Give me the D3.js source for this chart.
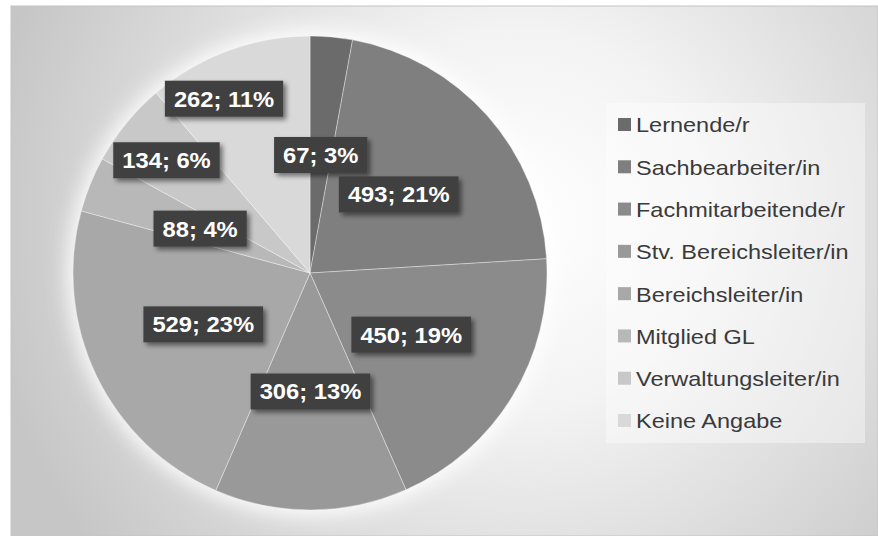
<!DOCTYPE html>
<html>
<head>
<meta charset="utf-8">
<script src="https://cdn.jsdelivr.net/npm/d3@7"></script>
<style>
  html, body { margin: 0; padding: 0; background: #ffffff; }
  svg { display: block; }
</style>
</head>
<body>
<div id="chart"></div>
<script>
// categories and counts
const categories = ["Lernende/r", "Sachbearbeiter/in", "Fachmitarbeitende/r", "Stv. Bereichsleiter/in",
                    "Bereichsleiter/in", "Mitglied GL", "Verwaltungsleiter/in", "Keine Angabe"];
const counts = [67, 493, 450, 306, 529, 88, 134, 262];
const shades = ["#6b6b6b", "#7f7f7f", "#8b8b8b", "#999999", "#a8a8a8", "#b8b8b8", "#c8c8c8", "#d9d9d9"];

// Excel "best fit" moved the two crowded labels outwards (radius fraction, angle shift in degrees)
const labelNudge = {
    "Verwaltungsleiter/in": [0.77, -1],
    "Keine Angabe": [0.82, -6]
};

const width = 878, height = 536;
const cx = 310, cy = 273, radius = 237;

const svg = d3.select("#chart").append("svg")
    .attr("width", width)
    .attr("height", height);

const defs = svg.append("defs");

let bg = defs.append("radialGradient")
    .attr("id", "bg")
    .attr("gradientUnits", "userSpaceOnUse")
    .attr("cx", 520).attr("cy", 220).attr("r", 540);
bg.append("stop").attr("offset", "0%").attr("stop-color", "#ffffff");
bg.append("stop").attr("offset", "35%").attr("stop-color", "#f3f3f3");
bg.append("stop").attr("offset", "100%").attr("stop-color", "#c6c6c6");

let glow = defs.append("filter").attr("id", "glow")
    .attr("x", "-20%").attr("y", "-20%").attr("width", "140%").attr("height", "140%");
glow.append("feGaussianBlur").attr("stdDeviation", 10);

let shadow = defs.append("filter").attr("id", "shadow")
    .attr("x", "-20%").attr("y", "-30%").attr("width", "150%").attr("height", "180%");
shadow.append("feGaussianBlur").attr("in", "SourceAlpha").attr("stdDeviation", 2.5);
shadow.append("feOffset").attr("dx", 3).attr("dy", 3).attr("result", "blur");
shadow.append("feComponentTransfer").append("feFuncA").attr("type", "linear").attr("slope", 0.5);
let merge = shadow.append("feMerge");
merge.append("feMergeNode");
merge.append("feMergeNode").attr("in", "SourceGraphic");

// chart area
svg.append("rect")
    .attr("x", 11).attr("y", 6)
    .attr("width", width - 11).attr("height", height - 6)
    .attr("fill", "url(#bg)")
    .attr("stroke", "#c4c4c4")
    .attr("stroke-width", 1);

const total = d3.sum(counts);
const rows = categories.map((c, i) => ({ name: c, value: counts[i], i: i }));

const color = d3.scaleOrdinal().domain(categories).range(shades);

const pie = d3.pie().value(d => d.value).sort(null);
const arc = d3.arc().innerRadius(0).outerRadius(radius);
const arcs = pie(rows);

const g = svg.append("g").attr("transform", `translate(${cx},${cy})`);

// soft white halo behind the pie
g.append("circle")
    .attr("r", radius + 6)
    .attr("fill", "#ffffff")
    .attr("opacity", 0.9)
    .attr("filter", "url(#glow)");

g.selectAll("path.slice")
    .data(arcs)
    .enter()
    .append("path")
    .attr("class", "slice")
    .attr("d", arc)
    .attr("fill", d => color(d.data.name))
    .attr("stroke", "rgba(255,255,255,0.45)")
    .attr("stroke-width", 0.8);

// data labels
const labels = g.selectAll("g.label")
    .data(arcs)
    .enter()
    .append("g")
    .attr("class", "label")
    .attr("transform", d => {
        let nudge = labelNudge[d.data.name] || [0.5, 0];
        let a = (d.startAngle + d.endAngle) / 2 + nudge[1] * Math.PI / 180;
        let r = radius * nudge[0];
        return `translate(${r * Math.sin(a)},${-r * Math.cos(a)})`;
    });

labels.append("rect")
    .attr("fill", "#404040")
    .attr("filter", "url(#shadow)");

labels.append("text")
    .attr("text-anchor", "middle")
    .attr("dy", "0.36em")
    .attr("transform", "scale(1.08,1)")
    .attr("font-family", "'Liberation Sans', Arial, sans-serif")
    .attr("font-weight", "bold")
    .attr("font-size", "22px")
    .attr("fill", "#ffffff")
    .text(d => d.data.value + "; " + Math.round(d.data.value / total * 100) + "%");

labels.each(function () {
    let bb = d3.select(this).select("text").node().getBBox();
    let w = bb.width * 1.08;
    d3.select(this).select("rect")
        .attr("x", -w / 2 - 9)
        .attr("y", -18)
        .attr("width", w + 18)
        .attr("height", 36);
});

// legend
const legendX = 606, legendY = 103, legendW = 259, legendH = 340;

svg.append("rect")
    .attr("x", legendX).attr("y", legendY)
    .attr("width", legendW).attr("height", legendH)
    .attr("fill", "#ffffff")
    .attr("opacity", 0.4);

const ly = d3.scalePoint()
    .domain(categories)
    .range([legendY + 22, legendY + legendH - 22]);

const legend = svg.selectAll("g.legend")
    .data(rows)
    .enter()
    .append("g")
    .attr("class", "legend")
    .attr("transform", d => `translate(${legendX + 12},${ly(d.name)})`);

legend.append("rect")
    .attr("x", 0).attr("y", -7)
    .attr("width", 13).attr("height", 13)
    .attr("fill", d => color(d.name));

legend.append("text")
    .attr("x", 18 / 1.12)
    .attr("dy", "0.35em")
    .attr("transform", "scale(1.12,1)")
    .attr("font-family", "'Liberation Sans', Arial, sans-serif")
    .attr("font-size", "21px")
    .attr("fill", "#3a3a3a")
    .text(d => d.name);
</script>
</body>
</html>
